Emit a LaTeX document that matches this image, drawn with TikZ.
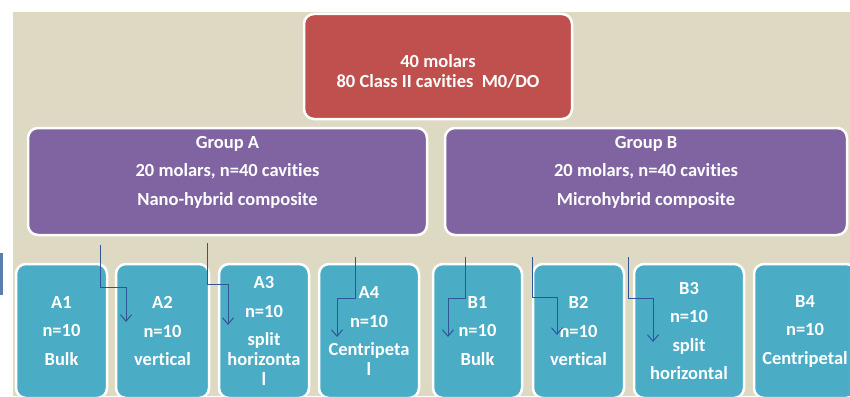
\documentclass[tikz,border=0pt]{standalone}
\usepackage{fontspec}
\setmainfont{Carlito}[Ligatures=NoCommon]
\usetikzlibrary{arrows.meta}
\definecolor{bgbeige}{HTML}{DDD9C3}
\definecolor{topred}{HTML}{C0504D}
\definecolor{grppurple}{HTML}{8064A2}
\definecolor{subteal}{HTML}{4BACC6}
\definecolor{arrblue}{HTML}{2F5597}
\definecolor{edgebar}{HTML}{5A7DB0}
\tikzset{
  box/.style={draw=white, line width=2.5pt, rounded corners=10pt, inner sep=0pt,
    text=white, font=\bfseries\fontsize{18.5}{20}\selectfont, align=center},
  topbox/.style={box, fill=topred},
  grpbox/.style={box, fill=grppurple},
  subbox/.style={box, fill=subteal, minimum height=134pt},
  txt/.style={text=white, font=\bfseries\fontsize{18.5}{20}\selectfont, align=center, inner sep=0pt},
  arr/.style={draw=arrblue, line width=1pt, -{Straight Barb[length=6.5pt,width=11pt]}},
}
\begin{document}
\begin{tikzpicture}[x=1pt,y=-1pt]
\useasboundingbox (0,0) rectangle (850,396);
\fill[white] (0,0) rectangle (850,396);
\fill[bgbeige] (13,12) rectangle (850,396);
\fill[edgebar] (0,253) rectangle (3,295);

% top box
\node[topbox, minimum width=268pt, minimum height=105pt] (top) at (438,66.5) {};
\node[txt] (topt) at (438,71) {40 molars\\80 Class II cavities\ \ M0/DO};

% group boxes
\node[grpbox, minimum width=399pt, minimum height=107pt] (gA) at (227.5,181.5) {};
\node[txt] (gAt) at (227.5,172) {Group A\\[8.5pt]20 molars, n=40 cavities\\[8.5pt]Nano-hybrid composite};
\node[grpbox, minimum width=402pt, minimum height=107pt] (gB) at (646,181.5) {};
\node[txt] (gBt) at (646,172) {Group B\\[8.5pt]20 molars, n=40 cavities\\[8.5pt]Microhybrid composite};

% sub boxes
\node[subbox, minimum width=91pt]  (A1) at (61.5,331) {A1\\[8.5pt]n=10\\[8.5pt]Bulk};
\node[subbox, minimum width=93pt]  (A2) at (162.5,331) {A2\\[8.5pt]n=10\\[8.5pt]vertical};
\node[subbox, minimum width=90pt]  (A3) at (264,331) {A3\\[8.5pt]n=10\\[8.5pt]split\\horizonta\\l};
\node[subbox, minimum width=100pt] (A4) at (369,331) {A4\\[8.5pt]n=10\\[8.5pt]Centripeta\\l};
\node[subbox, minimum width=89pt]  (B1) at (477.5,331) {B1\\[8.5pt]n=10\\[8.5pt]Bulk};
\node[subbox, minimum width=91pt]  (B2) at (578.5,331) {B2\\[8.5pt]n=10\\[8.5pt]vertical};
\node[subbox, minimum width=110pt] (B3) at (689,331) {B3\\[8.5pt]n=10\\[8.5pt]split\\[8.5pt]horizontal};
\node[subbox, minimum width=102pt] (B4) at (805,331) {B4\\[8.5pt]n=10\\[8.5pt]Centripetal};

% arrow coordinates
\coordinate (s1) at (100,245); \coordinate (k1) at (126,287); \coordinate (e1) at (126,322);
\coordinate (s2) at (207,243); \coordinate (k2) at (228,284); \coordinate (e2) at (228,325);
\coordinate (s3) at (355,257); \coordinate (k3) at (337,298); \coordinate (e3) at (337,337);
\coordinate (s4) at (465,257); \coordinate (k4) at (448,298); \coordinate (e4) at (448,337);
\coordinate (s5) at (532,257); \coordinate (k5) at (557,297); \coordinate (e5) at (557,335);
\coordinate (s6) at (628,257); \coordinate (k6) at (653,298); \coordinate (e6) at (653,342);
\foreach \i in {1,...,6}{\draw[arr] (s\i) |- (k\i) -- (e\i);}
\end{tikzpicture}
\end{document}
